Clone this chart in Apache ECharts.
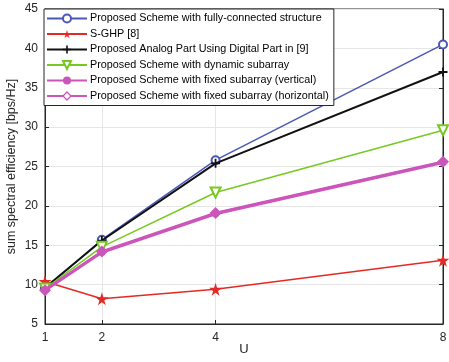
<!DOCTYPE html>
<html><head><meta charset="utf-8">
<script src="https://cdn.jsdelivr.net/npm/echarts@6/dist/echarts.min.js"></script>
<style>html,body{margin:0;padding:0;background:#fff}#c{width:449px;height:362px}</style>
</head><body><div id="c"></div>
<script>
const U = [1, 2, 4, 8];
const xTicks = [1, 2, 4, 8];
const fullyConnected = [9.5, 15.7, 25.8, 40.5];
const sghp = [10.4, 8.2, 9.4, 13.1];
const analogDigital = [9.6, 15.6, 25.4, 37.0];
const dynamicSub = [9.5, 14.8, 21.7, 29.6];
const fixedVertical = [9.3, 14.1, 19.0, 25.5];
const fixedHorizontal = [9.3, 14.2, 19.1, 25.6];
const names = [
  'Proposed Scheme with fully-connected structure',
  'S-GHP [8]',
  'Proposed Analog Part Using Digital Part in [9]',
  'Proposed Scheme with dynamic subarray',
  'Proposed Scheme with fixed subarray (vertical)',
  'Proposed Scheme with fixed subarray (horizontal)'
];

const STAR = 'path://M50,0 L61,35 L98,35 L68,57 L79,91 L50,70 L21,91 L32,57 L2,35 L39,35 Z';
const PLUS = 'path://M4,0 L6,0 L6,4 L10,4 L10,6 L6,6 L6,10 L4,10 L4,6 L0,6 L0,4 L4,4 Z';
const pair = arr => U.map((u, i) => [u, arr[i]]);

const txt = '#262626';
const font = 'Liberation Sans, Arial, sans-serif';
const chart = echarts.init(document.getElementById('c'));
chart.setOption({
  animation: false,
  grid: { left: 45, right: 6, top: 9, bottom: 38, containLabel: false, outerBoundsMode: 'none',
    show: true, borderColor: txt, borderWidth: 1, backgroundColor: 'transparent' },
  legend: {
    orient: 'vertical', left: 44, top: 9, itemWidth: 40, itemHeight: 10, itemGap: 4.5,
    padding: [4, 5, 4, 2], backgroundColor: '#fff', borderColor: txt, borderWidth: 1,
    textStyle: { fontFamily: font, fontSize: 10.8, lineHeight: 11, color: '#000', padding: [0, 0, 0, -2] },
    data: names.map((n, i) => {
      if (i === 5) return { name: n, itemStyle: { color: '#fff', borderColor: '#CC55BB', borderWidth: 1.3 } };
      if (i === 0 || i === 3) return { name: n, itemStyle: { borderWidth: 1.2 } };
      return { name: n };
    })
  },
  xAxis: {
    type: 'value', min: 1, max: 8, interval: 1,
    name: 'U', nameLocation: 'middle', nameGap: 19, nameMoveOverlap: false,
    nameTextStyle: { fontFamily: font, fontSize: 13, color: txt },
    axisLine: { lineStyle: { color: txt } },
    axisTick: { inside: true, length: 4, customValues: xTicks, lineStyle: { color: txt } },
    axisLabel: { customValues: xTicks, fontFamily: font, fontSize: 12, color: txt, margin: 8 },
    splitLine: { show: false }
  },
  yAxis: [{
    type: 'value', min: 5, max: 45, interval: 5,
    name: 'sum spectral efficiency [bps/Hz]', nameLocation: 'middle', nameGap: 27, nameMoveOverlap: false,
    nameTextStyle: { fontFamily: font, fontSize: 12.5, color: txt },
    axisLine: { show: true, lineStyle: { color: txt } },
    axisTick: { show: true, inside: true, length: 4, lineStyle: { color: txt } },
    axisLabel: { fontFamily: font, fontSize: 12, color: txt, margin: 7 },
    splitLine: { show: true, lineStyle: { color: '#e6e6e6', width: 1 } }
  }, {
    type: 'value', min: 5, max: 45, interval: 5, position: 'right',
    axisLine: { show: true, lineStyle: { color: txt } },
    axisTick: { show: true, inside: true, length: 4, lineStyle: { color: txt } },
    axisLabel: { show: false }, splitLine: { show: false }
  }],
  series: [
    { name: names[0], type: 'line', data: pair(fullyConnected), color: '#4A58B5', lineStyle: { width: 1.5 },
      symbol: 'emptyCircle', symbolSize: 8, itemStyle: { borderWidth: 1.5 }, z: 3,
      markLine: { silent: true, symbol: 'none', label: { show: false }, lineStyle: { color: '#e6e6e6', width: 1, type: 'solid' },
        data: [{ xAxis: 2 }, { xAxis: 4 }], z: 0 } },
    { name: names[1], type: 'line', data: pair(sghp), color: '#E42A24', lineStyle: { width: 1.5 },
      symbol: STAR, symbolSize: 13, z: 4 },
    { name: names[2], type: 'line', data: pair(analogDigital), color: '#111111', lineStyle: { width: 2 },
      symbol: PLUS, symbolSize: 9, z: 4 },
    { name: names[3], type: 'line', data: pair(dynamicSub), color: '#77C922', lineStyle: { width: 1.5 },
      symbol: 'emptyTriangle', symbolRotate: 180, symbolSize: 10, itemStyle: { borderWidth: 1.5 }, z: 4 },
    { name: names[4], type: 'line', data: pair(fixedVertical), color: '#CC55BB', lineStyle: { width: 3 },
      symbol: 'circle', symbolSize: 7, z: 5 },
    { name: names[5], type: 'line', data: pair(fixedHorizontal), color: '#CC55BB', lineStyle: { width: 2.5 },
      symbol: 'diamond', symbolSize: 12, z: 5 }
  ]
});
</script></body></html>
